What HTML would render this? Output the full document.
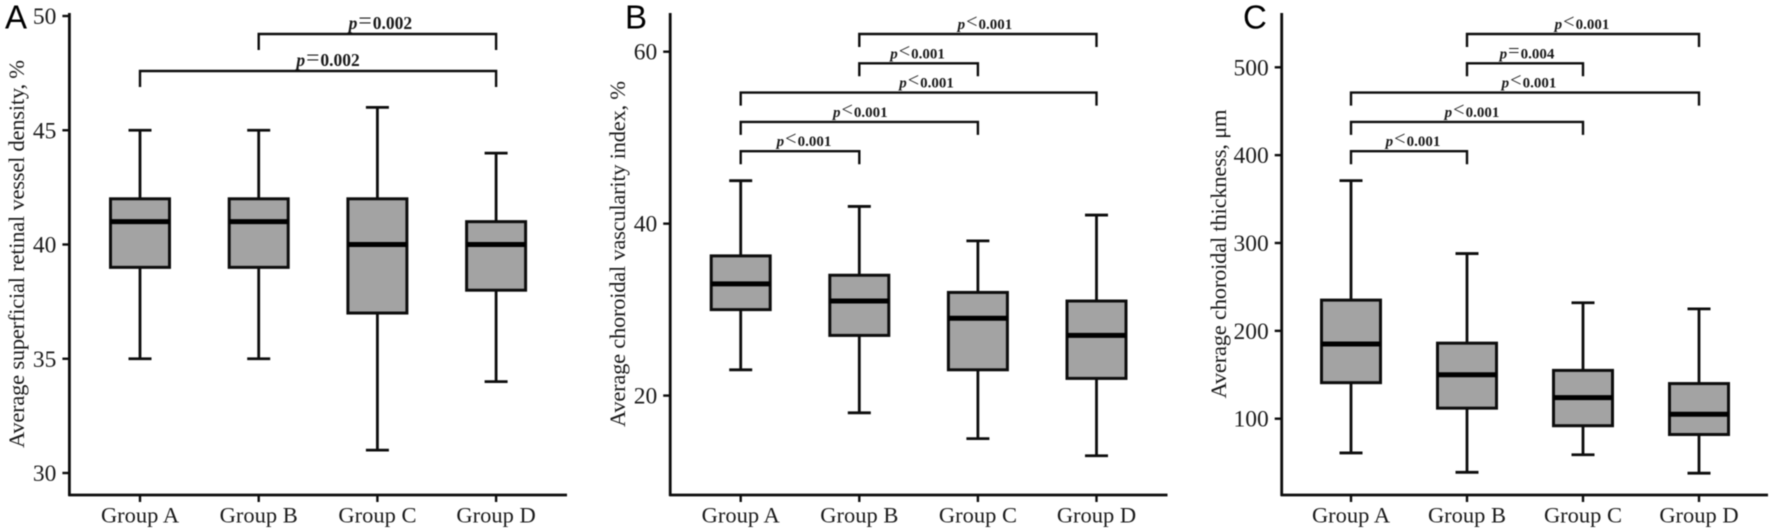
<!DOCTYPE html>
<html lang="en">
<head>
<meta charset="utf-8">
<title>Box plots of vessel density, vascularity index and choroidal thickness</title>
<style>
html,body{margin:0;padding:0;background:#fff;}
svg{display:block;filter:blur(0.4px);}
text{font-family:"Liberation Serif",serif;fill:#1a1a1a;}
.letter{font-family:"Liberation Sans",sans-serif;fill:#000;}
</style>
</head>
<body>
<svg id="figure" width="1772" height="532" viewBox="0 0 1772 532" xmlns="http://www.w3.org/2000/svg"></svg>
<script>
const categories = ["Group A", "Group B", "Group C", "Group D"];

const aTicks = [30, 35, 40, 45, 50];
const aLow = [35, 35, 31, 34];
const aQ1 = [39, 39, 37, 38];
const aMedian = [41, 41, 40, 40];
const aQ3 = [42, 42, 42, 41];
const aHigh = [45, 45, 46, 44];
const aPairFrom = [1, 0];
const aPairTo = [3, 3];
const aPValues = ["=0.002", "=0.002"];

const bTicks = [20, 40, 60];
const bLow = [23, 18, 15, 13];
const bQ1 = [30, 27, 23, 22];
const bMedian = [33, 31, 29, 27];
const bQ3 = [36.25, 34, 32, 31];
const bHigh = [45, 42, 38, 41];
const bPairFrom = [1, 1, 0, 0, 0];
const bPairTo = [3, 2, 3, 2, 1];
const bPValues = ["<0.001", "<0.001", "<0.001", "<0.001", "<0.001"];

const cTicks = [100, 200, 300, 400, 500];
const cLow = [61, 39, 59, 38];
const cQ1 = [141, 112, 92, 82];
const cMedian = [185, 150, 124, 105];
const cQ3 = [235, 186, 155, 140];
const cHigh = [371, 288, 232, 225];
const cPairFrom = [1, 1, 0, 0, 0];
const cPairTo = [3, 2, 3, 2, 1];
const cPValues = ["<0.001", "=0.004", "<0.001", "<0.001", "<0.001"];

const svg = document.getElementById("figure");
const NS = "http://www.w3.org/2000/svg";

function make(parent, tag, attrs, text) {
  const el = document.createElementNS(NS, tag);
  for (const k in attrs) el.setAttribute(k, attrs[k]);
  if (text !== undefined) el.textContent = text;
  parent.appendChild(el);
  return el;
}

function drawPanel(p) {
  const group = make(svg, "g", {});
  
  

  const xAt = i => p.xFirst + i * p.xStep;
  const yAt = v => p.yBottom + (v - p.domain[0]) / (p.domain[1] - p.domain[0]) * (p.yTop - p.yBottom);
  const ink = "#0d0d0d";

  const letter = make(group, "text", {class: "letter", x: p.letterX, y: 28.5, "font-size": 33}, p.letter);
  
  

  const yAxis = make(group, "line", {x1: p.axisX, x2: p.axisX, y1: 13, y2: 496, stroke: ink, "stroke-width": 2.8});
  
  
  const xAxis = make(group, "line", {x1: p.axisX - 1, x2: p.axisEnd, y1: 495, y2: 495, stroke: ink, "stroke-width": 2.8});
  
  

  const title = make(group, "text", {
    x: 0, y: 0, "font-size": 22.5, "text-anchor": "middle",
    transform: "translate(" + p.titleX + ",254) rotate(-90)",
    textLength: p.titleLength, lengthAdjust: "spacing"
  }, p.title);
  
  

  p.ticks.forEach(t => {
    const tick = make(group, "line", {x1: p.axisX - 7, x2: p.axisX, y1: yAt(t), y2: yAt(t), stroke: ink, "stroke-width": 2.4});
    
    
    const lab = make(group, "text", {x: p.axisX - 13, y: yAt(t) + 8, "font-size": 23.5, "text-anchor": "end"}, String(t));
    
    
  });

  categories.forEach((c, i) => {
    const x = xAt(i);
    const tick = make(group, "line", {x1: x, x2: x, y1: 495, y2: 502, stroke: ink, "stroke-width": 2.4});
    
    
    const lab = make(group, "text", {x: x, y: 522.5, "font-size": 22.5, "text-anchor": "middle"}, c);
    
    

    const box = make(group, "g", {});
    
    
    make(box, "line", {x1: x, x2: x, y1: yAt(p.high[i]), y2: yAt(p.q3[i]), stroke: ink, "stroke-width": 2.8});
    make(box, "line", {x1: x, x2: x, y1: yAt(p.q1[i]), y2: yAt(p.low[i]), stroke: ink, "stroke-width": 2.8});
    make(box, "line", {x1: x - 11.5, x2: x + 11.5, y1: yAt(p.high[i]), y2: yAt(p.high[i]), stroke: ink, "stroke-width": 2.8});
    make(box, "line", {x1: x - 11.5, x2: x + 11.5, y1: yAt(p.low[i]), y2: yAt(p.low[i]), stroke: ink, "stroke-width": 2.8});
    make(box, "rect", {x: x - 29.5, width: 59, y: yAt(p.q3[i]), height: yAt(p.q1[i]) - yAt(p.q3[i]), fill: "#a3a3a3", stroke: ink, "stroke-width": 3});
    make(box, "line", {x1: x - 29.5, x2: x + 29.5, y1: yAt(p.median[i]), y2: yAt(p.median[i]), stroke: "#000", "stroke-width": 5});
  });

  p.pValues.forEach((val, i) => {
    const x1 = xAt(p.pairFrom[i]);
    const x2 = xAt(p.pairTo[i]);
    const y = p.bracketTop + i * p.bracketGap;
    const br = make(group, "path", {d: "M" + x1 + " " + (y + p.bracketDrop) + "V" + y + "H" + x2 + "V" + (y + p.bracketDrop), fill: "none", stroke: ink, "stroke-width": 2.4});
    
    
    const t = make(group, "text", {x: (x1 + x2) / 2 + p.labelShift[i], y: y - 5, "font-size": p.labelSize, "font-weight": "bold", "text-anchor": "middle"});
    
    
    make(t, "tspan", {"font-style": "italic"}, "p");
    make(t, "tspan", {"font-weight": "normal", "font-size": p.labelSize * 1.35, dx: 1, dy: -1}, val.charAt(0));
    make(t, "tspan", {dx: 1, dy: 1}, val.slice(1));
  });
}

drawPanel({
  id: "a", letter: "A", letterX: 5,
  axisX: 69.4, axisEnd: 567, xFirst: 140, xStep: 118.7,
  yBottom: 473, yTop: 16, domain: [30, 50],
  titleX: 24, titleLength: 388, title: "Average superficial retinal vessel density, %",
  ticks: aTicks, low: aLow, q1: aQ1, median: aMedian, q3: aQ3, high: aHigh,
  pairFrom: aPairFrom, pairTo: aPairTo, pValues: aPValues,
  bracketTop: 34, bracketGap: 37, bracketDrop: 16, labelSize: 17.5,
  labelShift: [3, 10]
});

drawPanel({
  id: "b", letter: "B", letterX: 625,
  axisX: 670.2, axisEnd: 1167.5, xFirst: 740.7, xStep: 118.6,
  yBottom: 395.6, yTop: 51.7, domain: [20, 60],
  titleX: 625, titleLength: 346, title: "Average choroidal vascularity index, %",
  ticks: bTicks, low: bLow, q1: bQ1, median: bMedian, q3: bQ3, high: bHigh,
  pairFrom: bPairFrom, pairTo: bPairTo, pValues: bPValues,
  bracketTop: 34, bracketGap: 29.3, bracketDrop: 13, labelSize: 15,
  labelShift: [7, -1, 8, 1, 4]
});

drawPanel({
  id: "c", letter: "C", letterX: 1243,
  axisX: 1281.7, axisEnd: 1768, xFirst: 1351, xStep: 116,
  yBottom: 418.7, yTop: 67.3, domain: [100, 500],
  titleX: 1226, titleLength: 289, title: "Average choroidal thickness, μm",
  ticks: cTicks, low: cLow, q1: cQ1, median: cMedian, q3: cQ3, high: cHigh,
  pairFrom: cPairFrom, pairTo: cPairTo, pValues: cPValues,
  bracketTop: 34, bracketGap: 29.3, bracketDrop: 13, labelSize: 15,
  labelShift: [-1, 2, 4, 5, 4]
});
</script>
</body>
</html>
